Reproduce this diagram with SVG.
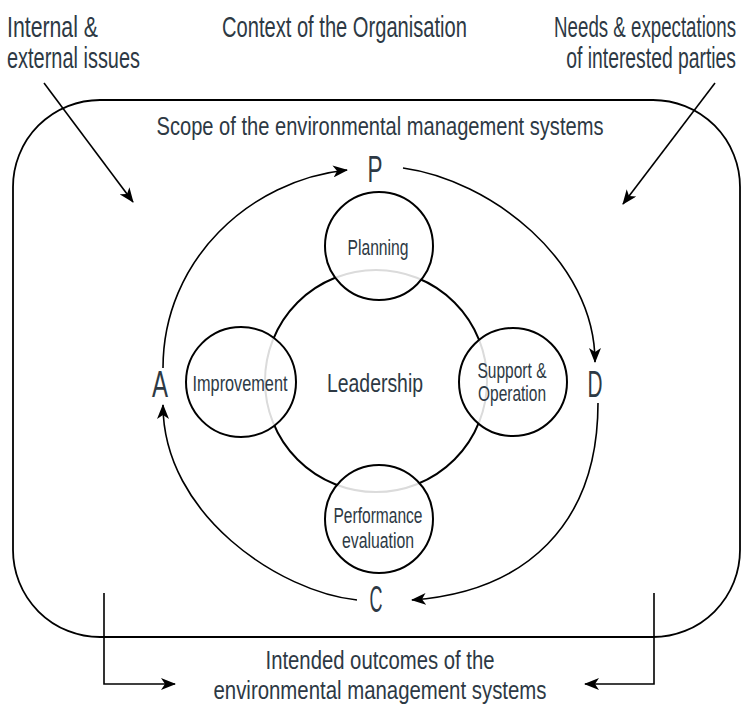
<svg xmlns="http://www.w3.org/2000/svg" width="746" height="706" viewBox="0 0 746 706">
  <defs>
    <marker id="arrow" markerUnits="userSpaceOnUse" markerWidth="15" markerHeight="12" refX="14" refY="6" orient="auto" viewBox="0 0 15 12">
      <path d="M0,0 L15,6 L0,12 L4,6 Z" fill="#000"/>
    </marker>
    <style>
      .t{font-family:"Liberation Sans","DejaVu Sans Condensed",sans-serif;fill:#2d3944}
      .line{fill:none;stroke:#000;stroke-width:1.6}
      .frame{fill:none;stroke:#000;stroke-width:1.8}
      .lead{fill:#fff;stroke:#000;stroke-width:2}
      .sub{fill:#fff;fill-opacity:0.86;stroke:#000;stroke-width:2}
    </style>
  </defs>
  <rect width="746" height="706" fill="#fff"/>

  <!-- header texts (horizontally narrowed to a condensed look) -->
  <g id="issues">
    <text class="t" x="7" y="37" font-size="29" textLength="91" lengthAdjust="spacingAndGlyphs">Internal &amp;</text>
    <text class="t" x="7" y="68" font-size="29" textLength="133" lengthAdjust="spacingAndGlyphs">external issues</text>
  </g>
  <g id="context">
    <text class="t" transform="translate(222,37) scale(0.694,1)" font-size="29">Context of the Organisation</text>
  </g>
  <g id="needs">
    <text class="t" transform="translate(736,37) scale(0.645,1)" font-size="29" text-anchor="end">Needs &amp; expectations</text>
    <text class="t" transform="translate(736,68) scale(0.667,1)" font-size="29" text-anchor="end">of interested parties</text>
  </g>

  <!-- scope frame -->
  <g id="scope">
    <rect class="frame" x="13" y="100" width="727" height="537" rx="87" ry="87"/>
    <text class="t" x="380" y="135" font-size="25" text-anchor="middle" textLength="447" lengthAdjust="spacingAndGlyphs">Scope of the environmental management systems</text>
  </g>

  <!-- leadership core with the four stages -->
  <g id="leadership">
    <circle class="lead" cx="376" cy="381" r="111"/>
    <text class="t" x="375" y="392" font-size="26" text-anchor="middle" textLength="96" lengthAdjust="spacingAndGlyphs">Leadership</text>
  </g>
  <g id="planning">
    <circle class="sub" cx="379" cy="246" r="54"/>
    <text class="t" x="378" y="255" font-size="22" text-anchor="middle" textLength="61" lengthAdjust="spacingAndGlyphs">Planning</text>
  </g>
  <g id="improvement">
    <circle class="sub" cx="241" cy="382" r="55"/>
    <text class="t" x="240" y="391" font-size="22" text-anchor="middle" textLength="95" lengthAdjust="spacingAndGlyphs">Improvement</text>
  </g>
  <g id="support">
    <circle class="sub" cx="513" cy="382" r="54"/>
    <text class="t" x="512" y="378" font-size="22" text-anchor="middle" textLength="69" lengthAdjust="spacingAndGlyphs">Support &amp;</text>
    <text class="t" x="512" y="401" font-size="22" text-anchor="middle" textLength="68" lengthAdjust="spacingAndGlyphs">Operation</text>
  </g>
  <g id="performance">
    <circle class="sub" cx="379" cy="519" r="54"/>
    <text class="t" x="378" y="523" font-size="22" text-anchor="middle" textLength="89" lengthAdjust="spacingAndGlyphs">Performance</text>
    <text class="t" x="378" y="548" font-size="22" text-anchor="middle" textLength="72" lengthAdjust="spacingAndGlyphs">evaluation</text>
  </g>

  <!-- PDCA letters -->
  <g id="p"><text class="t" x="375" y="182" font-size="37" text-anchor="middle" textLength="15" lengthAdjust="spacingAndGlyphs">P</text></g>
  <g id="d"><text class="t" x="595" y="397" font-size="37" text-anchor="middle" textLength="15" lengthAdjust="spacingAndGlyphs">D</text></g>
  <g id="c"><text class="t" x="376" y="612" font-size="37" text-anchor="middle" textLength="13" lengthAdjust="spacingAndGlyphs">C</text></g>
  <g id="a"><text class="t" x="160" y="397" font-size="37" text-anchor="middle" textLength="16" lengthAdjust="spacingAndGlyphs">A</text></g>

  <!-- outcomes -->
  <g id="outcomes">
    <text class="t" x="380" y="669" font-size="25" text-anchor="middle" textLength="229" lengthAdjust="spacingAndGlyphs">Intended outcomes of the</text>
    <text class="t" x="380" y="699" font-size="25" text-anchor="middle" textLength="333" lengthAdjust="spacingAndGlyphs">environmental management systems</text>
  </g>

  <!-- connectors -->
  <g id="connectors">
    <path class="line" d="M163,368 C163,260 250,180 347,170" marker-end="url(#arrow)"/>
    <path class="line" d="M403,168 C490,180 595,260 595,362" marker-end="url(#arrow)"/>
    <path class="line" d="M598,403 C598,525 525,592 412,600" marker-end="url(#arrow)"/>
    <path class="line" d="M357,600 C280,592 163,515 163,405" marker-end="url(#arrow)"/>
    <path class="line" d="M44,83 L133,202" marker-end="url(#arrow)"/>
    <path class="line" d="M715,83 L623,204" marker-end="url(#arrow)"/>
    <path class="line" d="M104,593 L104,684 L175,684" marker-end="url(#arrow)"/>
    <path class="line" d="M654,593 L654,684 L585,684" marker-end="url(#arrow)"/>
  </g>
</svg>
